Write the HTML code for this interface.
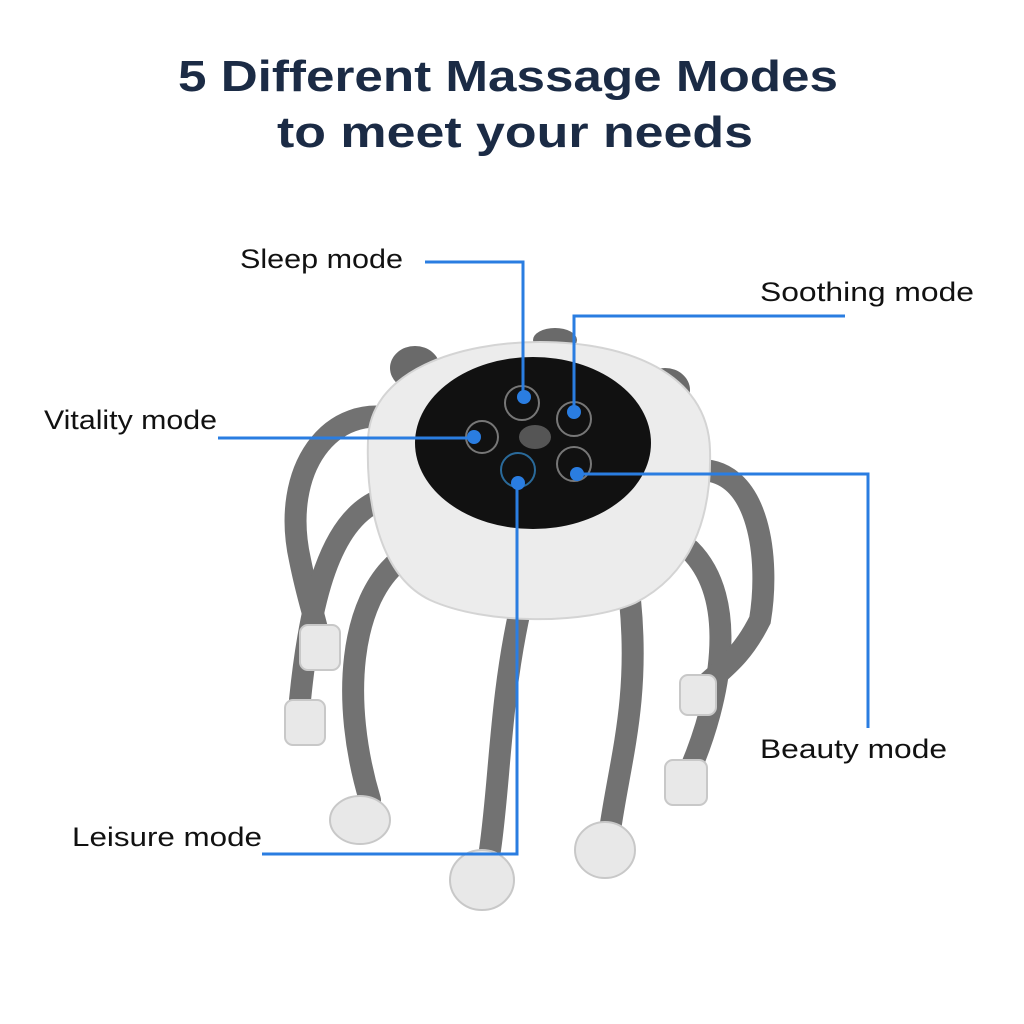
<!DOCTYPE html>
<html><head><meta charset="utf-8"><style>
body{margin:0;background:#fff;width:1024px;height:1024px;overflow:hidden}
svg{display:block}
</style></head><body>
<svg width="1024" height="1024" viewBox="0 0 1024 1024" xmlns="http://www.w3.org/2000/svg">
<g font-family="Liberation Sans, sans-serif">
<text x="178" y="91" textLength="660" lengthAdjust="spacingAndGlyphs" font-size="44" font-weight="bold" fill="#1b2b45">5 Different Massage Modes</text>
<text x="277" y="147" textLength="476" lengthAdjust="spacingAndGlyphs" font-size="44" font-weight="bold" fill="#1b2b45">to meet your needs</text>
</g>
<g stroke="#727272" stroke-width="22" fill="none" stroke-linecap="round">
<path d="M400 420 C330 400 280 470 300 560 C310 610 320 630 320 650"/>
<path d="M380 500 C330 520 310 600 300 700"/>
<path d="M400 560 C350 600 340 700 370 800"/>
<path d="M520 610 C500 700 500 780 490 850"/>
<path d="M630 600 C640 700 620 760 610 830"/>
<path d="M690 550 C740 600 720 700 690 770"/>
<path d="M700 470 C760 470 770 560 760 620 C740 660 720 670 700 690"/>
</g>
<g fill="#e8e8e8" stroke="#c8c8c8" stroke-width="2">
<rect x="300" y="625" width="40" height="45" rx="8"/>
<rect x="285" y="700" width="40" height="45" rx="8"/>
<ellipse cx="360" cy="820" rx="30" ry="24"/>
<ellipse cx="482" cy="880" rx="32" ry="30"/>
<ellipse cx="605" cy="850" rx="30" ry="28"/>
<rect x="665" y="760" width="42" height="45" rx="8"/>
<rect x="680" y="675" width="36" height="40" rx="8"/>
</g>
<ellipse cx="415" cy="368" rx="25" ry="22" fill="#6a6a6a"/>
<ellipse cx="555" cy="340" rx="22" ry="12" fill="#6a6a6a"/>
<ellipse cx="665" cy="390" rx="25" ry="22" fill="#6a6a6a"/>
<path d="M368 440 C370 370 460 342 540 342 C625 342 708 372 710 450 C712 520 690 575 635 603 C585 625 485 625 430 600 C378 575 366 500 368 440Z" fill="#ececec" stroke="#d4d4d4" stroke-width="2"/>
<ellipse cx="533" cy="443" rx="118" ry="86" fill="#111"/>
<g stroke="#777" stroke-width="2" fill="none">
<circle cx="522" cy="403" r="17"/><circle cx="574" cy="419" r="17"/>
<circle cx="482" cy="437" r="16"/><circle cx="574" cy="464" r="17"/>
<circle cx="518" cy="470" r="17" stroke="#2a6a9a"/>
</g>
<ellipse cx="535" cy="437" rx="16" ry="12" fill="#555"/>
<g stroke="#2a7de1" stroke-width="3" fill="none">
<polyline points="425,262 523,262 523,397"/>
<polyline points="845,316 574,316 574,412"/>
<polyline points="218,438 474,438"/>
<polyline points="577,474 868,474 868,728"/>
<polyline points="262,854 517,854 517,483"/>
</g>
<g fill="#2a7de1">
<circle cx="524" cy="397" r="7"/><circle cx="574" cy="412" r="7"/>
<circle cx="474" cy="437" r="7"/><circle cx="577" cy="474" r="7"/>
<circle cx="518" cy="483" r="7"/>
</g>
<g font-family="Liberation Sans, sans-serif" font-size="27" fill="#111">
<text x="240" y="268" textLength="163" lengthAdjust="spacingAndGlyphs">Sleep mode</text>
<text x="760" y="301" textLength="214" lengthAdjust="spacingAndGlyphs">Soothing mode</text>
<text x="44" y="429" textLength="173" lengthAdjust="spacingAndGlyphs">Vitality mode</text>
<text x="760" y="758" textLength="187" lengthAdjust="spacingAndGlyphs">Beauty mode</text>
<text x="72" y="846" textLength="190" lengthAdjust="spacingAndGlyphs">Leisure mode</text>
</g>
</svg>
</body></html>
